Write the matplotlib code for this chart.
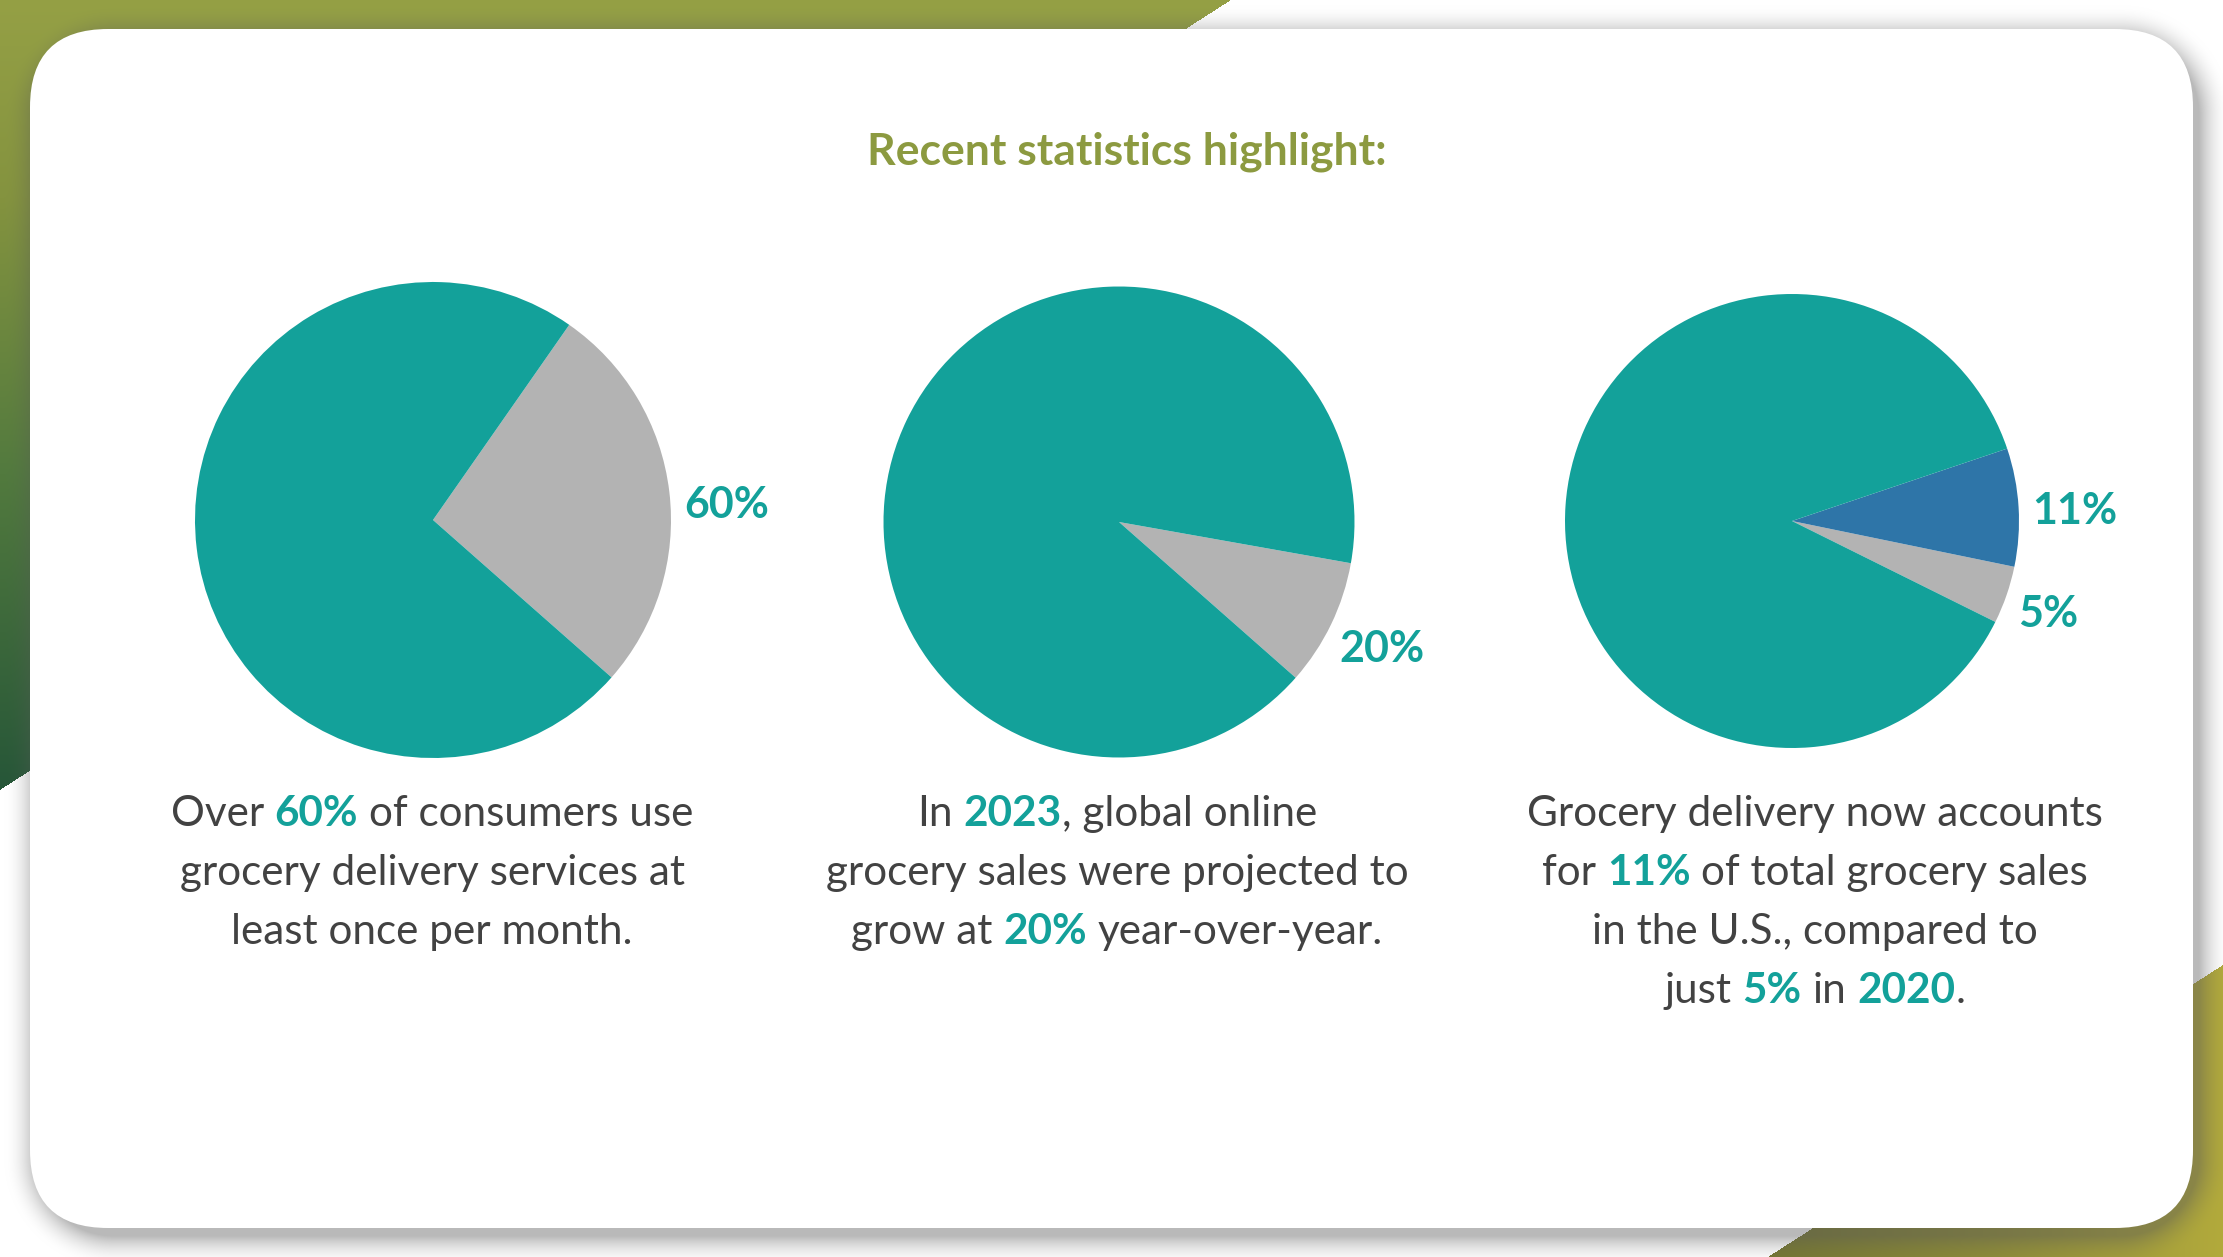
import numpy as np
import matplotlib
matplotlib.use("Agg")
import matplotlib.pyplot as plt
from matplotlib.patches import FancyBboxPatch

W, H = 2223, 1257

title = "Recent statistics highlight:"

# slice shares, counter-clockwise from the start angle
pie1_values = [26.8, 73.2]
pie2_values = [8.7, 91.3]
pie3_values = [4.1, 8.4, 87.5]
pie1_labels = ["60%", ""]
pie2_labels = ["20%", ""]
pie3_labels = ["5%", "11%", ""]

# caption lines: (text, highlighted)
caption1 = [[("Over ", 0), ("60%", 1), (" of consumers use", 0)],
            [("grocery delivery services at", 0)],
            [("least once per month.", 0)]]
caption2 = [[("In ", 0), ("2023", 1), (", global online", 0)],
            [("grocery sales were projected to", 0)],
            [("grow at ", 0), ("20%", 1), (" year-over-year.", 0)]]
caption3 = [[("Grocery delivery now accounts", 0)],
            [("for ", 0), ("11%", 1), (" of total grocery sales", 0)],
            [("in the U.S., compared to", 0)],
            [("just ", 0), ("5%", 1), (" in ", 0), ("2020", 1), (".", 0)]]

TEAL = "#13a19a"
GRAY = "#b3b3b3"
BLUE = "#2e75a8"
DARK = "#424242"
OLIVE = "#8c9a40"
FONT = "Lato"

fig = plt.figure(figsize=(W / 100, H / 100), dpi=100)
bg = fig.add_axes([0, 0, 1, 1])
bg.set_xlim(0, W)
bg.set_ylim(H, 0)
bg.axis("off")

# ---- background: white, two gradient corners, card shadow
yy, xx = np.mgrid[0:H, 0:W].astype(float) + 0.5
img = np.ones((H, W, 3))


def ramp(t, stops):
    t = np.clip(t, 0, 1)
    pos = [s[0] for s in stops]
    out = np.zeros(t.shape + (3,))
    for k in range(3):
        out[..., k] = np.interp(t, pos, [s[1][k] / 255 for s in stops])
    return out


# top-left triangle (0,0) (1231,0) (0,790)
m1 = xx / 1231 + yy / 790 <= 1
g1 = ramp(yy / 790, [(0, (0x95, 0xa0, 0x45)), (0.25, (0x84, 0x93, 0x3f)),
                     (0.6, (0x52, 0x7a, 0x3e)), (1, (0x26, 0x56, 0x38))])
img[m1] = g1[m1]

# bottom-right triangle (1768,1257) (2223,1257) (2223,965)
m2 = (xx - 1768) * 292 + (yy - 1257) * 455 >= 0
g2 = ramp((xx - 1768) / 455, [(0, (0x74, 0x76, 0x33)), (0.5, (0x8e, 0x8c, 0x38)),
                              (1, (0xb2, 0xaa, 0x3c))])
img[m2] = g2[m2]

# soft shadow of the rounded card
x0, x1, y0, y1, rad = 30, 2193, 29, 1228, 78
cx, cy = (x0 + x1) / 2 + 6, (y0 + y1) / 2 + 8
qx = np.abs(xx - cx) - ((x1 - x0) / 2 - rad)
qy = np.abs(yy - cy) - ((y1 - y0) / 2 - rad)
d = np.hypot(np.maximum(qx, 0), np.maximum(qy, 0)) + np.minimum(np.maximum(qx, qy), 0) - rad
a = 0.42 * np.clip(1 - d / 32, 0, 1) ** 2
img = img * (1 - a[..., None]) + 0.35 * a[..., None]

bg.imshow(img, extent=(0, W, H, 0), interpolation="bilinear", zorder=0)
bg.set_xlim(0, W)
bg.set_ylim(H, 0)

card = FancyBboxPatch((x0, y0), x1 - x0, y1 - y0,
                      boxstyle="round,pad=0,rounding_size=%d" % rad,
                      fc="white", ec="none", zorder=1)
bg.add_patch(card)

# ---- title
bg.text(1127, 165, title, ha="center", va="baseline", color=OLIVE,
        fontsize=32, fontweight="bold", family=FONT, zorder=3)


# ---- pies
def add_pie(cx, cy, r, values, colors, labels, start, label_xy=None):
    ax = fig.add_axes([(cx - r) / W, 1 - (cy + r) / H, 2 * r / W, 2 * r / H])
    wedges, texts = ax.pie(values, colors=colors, labels=labels, startangle=start,
                           counterclock=True, radius=1, labeldistance=1.24,
                           wedgeprops=dict(linewidth=0),
                           textprops=dict(color=TEAL, fontsize=31, fontweight="bold",
                                          family=FONT))
    for i, t in enumerate(texts):
        t.set_ha("center")
        t.set_va("center")
        if label_xy and label_xy.get(i):
            t.set_position(label_xy[i])
    ax.set_xlim(-1, 1)
    ax.set_ylim(-1, 1)
    ax.set_aspect("auto")
    ax.axis("off")
    return ax


add_pie(433, 520, 238, pie1_values, [GRAY, TEAL], pie1_labels, -41.4,
        label_xy={0: (1.235, 0.065)})
add_pie(1119, 522, 235.5, pie2_values, [GRAY, TEAL], pie2_labels, -41.4)
add_pie(1792, 521, 227, pie3_values, [GRAY, BLUE, TEAL], pie3_labels, -26.4,
        label_xy={0: (1.13, -0.41), 1: (1.245, 0.045)})

# ---- captions with highlighted numbers
renderer = fig.canvas.get_renderer()
BODY = 30.4


def width(s, weight):
    if not s:
        return 0.0
    t = bg.text(0, 0, s, fontsize=BODY, fontweight=weight, family=FONT)
    w = t.get_window_extent(renderer).width
    t.remove()
    return w


space_w = width("a a", "normal") - width("aa", "normal")


def seg_width(s, weight):
    core = s.strip()
    lead = len(s) - len(s.lstrip())
    trail = len(s) - len(s.rstrip())
    return width(core, weight), lead * space_w, trail * space_w


def draw_caption(lines, xc, y_first, step=59):
    for i, line in enumerate(lines):
        parts = []
        total = 0
        for s, hl in line:
            weight = "bold" if hl else "normal"
            w, lead, trail = seg_width(s, weight)
            parts.append((s.strip(), weight, TEAL if hl else DARK, w, lead, trail))
            total += w + lead + trail
        x = xc - total / 2
        y = y_first + i * step
        for s, weight, col, w, lead, trail in parts:
            x += lead
            bg.text(x, y, s, ha="left", va="baseline", color=col, fontsize=BODY,
                    fontweight=weight, family=FONT, zorder=3)
            x += w + trail


draw_caption(caption1, 432, 826)
draw_caption(caption2, 1117, 826)
draw_caption(caption3, 1815, 826)

fig.savefig("out.png", dpi=100)
